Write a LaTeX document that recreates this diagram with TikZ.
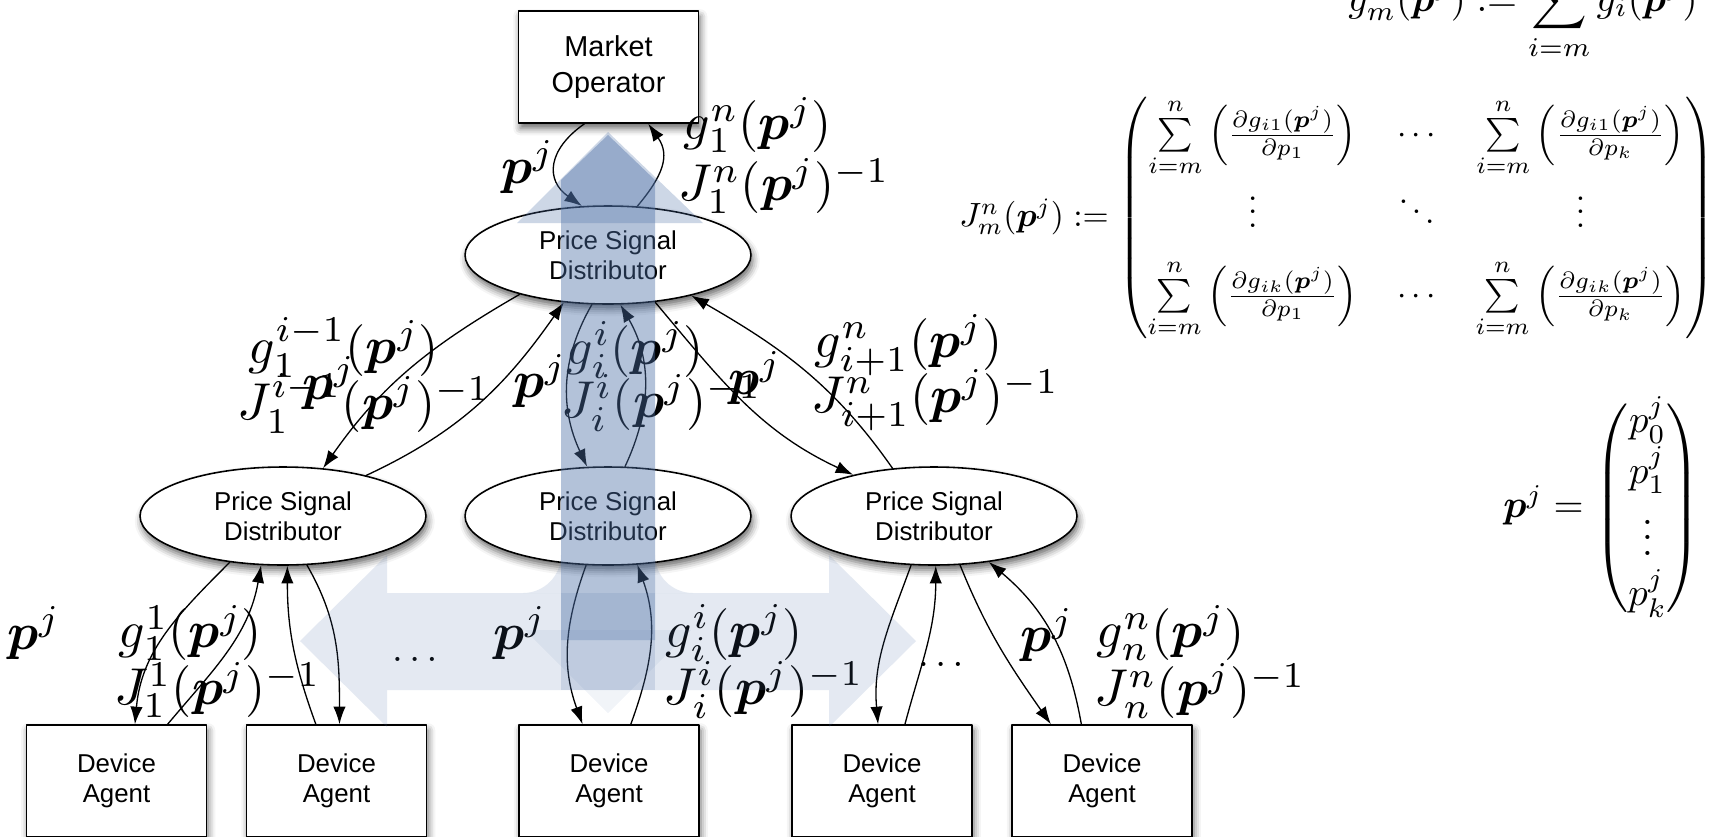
\documentclass[tikz,border=0pt]{standalone}
\usepackage{fontspec}
\setsansfont{Liberation Sans}
\usepackage{amsmath,bm}
\usetikzlibrary{shapes.geometric,arrows.meta,shadows.blur}

\definecolor{flowblue}{RGB}{75,110,165}

\tikzset{
  box/.style={rectangle,draw,fill=white,line width=0.9pt,minimum width=3.6cm,minimum height=2.24cm,inner sep=0pt,align=center,
    font=\sffamily\fontsize{14.7}{17}\selectfont,
    blur shadow={shadow xshift=1pt,shadow yshift=-3pt,shadow blur radius=4pt,shadow opacity=60}},
  psd/.style={ellipse,draw,fill=white,line width=0.9pt,minimum width=5.72cm,minimum height=1.96cm,inner sep=0pt,align=center,
    font=\sffamily\fontsize{14.7}{17}\selectfont,
    blur shadow={shadow xshift=1pt,shadow yshift=-3pt,shadow blur radius=4pt,shadow opacity=60}},
  lbl/.style={inner sep=0pt,scale=2.95},
  eqn/.style={inner sep=0pt,scale=2.2}
}

\begin{document}
\begin{tikzpicture}[x=0.02cm,y=0.02cm,line join=round,line cap=round,>={Latex[length=10pt,width=7pt]},line width=0.75pt]
\useasboundingbox (0,0) rectangle (1716,-836);
% Market operator and distributors
\node[box,font=\sffamily\fontsize{16.4}{21}\selectfont] (MO) at (608.5,-67) {Market\\Operator};
\node[psd] (P0) at (608,-255) {Price Signal\\Distributor};
\foreach \t/\x in {P1/283, P2/608, P3/934}{
  \node[psd] (\t) at (\x,-516) {Price Signal\\Distributor};
}
% Device agents
\foreach \t/\x in {D1/116.5, D2/336.5, D3/609, D4/882, D5/1102}{
  \node[box] (\t) at (\x,-781) {Device\\Agent};
}
% Connectors, top
\draw[->] (MO.-113) to[out=-145,in=145,looseness=1.4] (P0.118);
\draw[->] (P0.59) to[out=50,in=-55,looseness=1.2] (MO.-55);
% Connectors, middle
\draw[->] (P0.-156) to[out=-150,in=55] (P1.50);
\draw[->] (P1.26) to[out=25,in=-125] (P0.-133);
\draw[->] (P0.-108) to[out=-120,in=115] (P2.113);
\draw[->] (P2.71) to[out=65,in=-60] (P0.-76);
\draw[->] (P0.-45) to[out=-50,in=155] (P3.153);
\draw[->] (P3.131) to[out=125,in=-30] (P0.-26);
% Connectors, bottom
\draw[->] (P1.-139) to[out=-135,in=85] (D1.72);
\draw[->] (D1.48) to[out=50,in=-100] (P1.-114);
\draw[->] (D2.110) to[out=110,in=-90] (P1.-85);
\draw[->] (P1.-64) to[out=-60,in=90] (D2.87);
\draw[->] (P2.-114) to[out=-110,in=110] (D3.115);
\draw[->] (D3.69) to[out=70,in=-70] (P2.-59);
\draw[->] (P3.-115) to[out=-110,in=95] (D4.94);
\draw[->] (D4.68) to[out=75,in=-90] (P3.-88);
\draw[->] (P3.-62) to[out=-68,in=125] (D5.132);
\draw[->] (D5.110) to[out=100,in=-40] (P3.-40);
% Labels
\node[lbl] (q0) at (528,-167) {$\bm{p}^j$};
\node[lbl,anchor=west] (g0) at (682,-125) {$g_1^n(\bm{p}^j)$};
\node[lbl,anchor=west] (J0) at (677,-186) {$J_1^n(\bm{p}^j)^{-1}$};
\node[lbl,anchor=west] (g1) at (247,-347) {$g_1^{i-1}(\bm{p}^j)$};
\node[lbl,anchor=west] (J1) at (236,-403) {$J_1^{i-1}(\bm{p}^j)^{-1}$};
\node[lbl] (q1) at (329,-383) {$\bm{p}^j$};
\node[lbl] (q2) at (540,-381) {$\bm{p}^j$};
\node[lbl,anchor=west] (g2) at (565,-350) {$g_i^i(\bm{p}^j)$};
\node[lbl,anchor=west] (J2) at (560,-403) {$J_i^i(\bm{p}^j)^{-1}$};
\node[lbl] (q3) at (755,-378) {$\bm{p}^j$};
\node[lbl,anchor=west] (g3) at (813,-345) {$g_{i+1}^n(\bm{p}^j)$};
\node[lbl,anchor=west] (J3) at (810,-400) {$J_{i+1}^n(\bm{p}^j)^{-1}$};
\node[lbl] (q4) at (34,-633) {$\bm{p}^j$};
\node[lbl,anchor=west] (g4) at (117,-633) {$g_1^1(\bm{p}^j)$};
\node[lbl,anchor=west] (J4) at (113,-690) {$J_1^1(\bm{p}^j)^{-1}$};
\node[eqn] (dots1) at (418,-659) {$\dots$};
\node[lbl] (q5) at (520,-633) {$\bm{p}^j$};
\node[lbl,anchor=west] (g5) at (664,-633) {$g_i^i(\bm{p}^j)$};
\node[lbl,anchor=west] (J5) at (662,-690) {$J_i^i(\bm{p}^j)^{-1}$};
\node[eqn] (dots2) at (944,-664) {$\dots$};
\node[lbl] (q6) at (1047,-635) {$\bm{p}^j$};
\node[lbl,anchor=west] (g6) at (1095,-633) {$g_n^n(\bm{p}^j)$};
\node[lbl,anchor=west] (J6) at (1093,-691) {$J_n^n(\bm{p}^j)^{-1}$};
% Definitions
\node[eqn,anchor=base west] (Gdef) at (1347,-11) {$\displaystyle g_m^n(\bm{p}^j) := \sum_{i=m}^{n} g_i(\bm{p}^j)$};
\node[eqn,anchor=west,scale=0.87] (Jdef) at (958,-218) {$J_m^n(\bm{p}^j) := \begin{pmatrix}
  \sum\limits_{i=m}^{n}\left(\frac{\partial g_{i1}(\bm{p}^j)}{\partial p_1}\right) & \,\cdots\, & \sum\limits_{i=m}^{n}\left(\frac{\partial g_{i1}(\bm{p}^j)}{\partial p_k}\right)\\[6pt]
  \vdots & \ddots & \vdots\\[6pt]
  \sum\limits_{i=m}^{n}\left(\frac{\partial g_{ik}(\bm{p}^j)}{\partial p_1}\right) & \,\cdots\, & \sum\limits_{i=m}^{n}\left(\frac{\partial g_{ik}(\bm{p}^j)}{\partial p_k}\right)
\end{pmatrix}$};
\node[eqn,anchor=west] (pvec) at (1502,-508) {$\bm{p}^j = \begin{pmatrix} p_0^j\\ p_1^j\\ \vdots\\ p_k^j \end{pmatrix}$};
% Background arrows
\fill[flowblue,opacity=0.15] (300,-641) -- (387,-555) -- (387,-593) -- (829,-593) -- (829,-555) -- (916,-641)
  -- (829,-727) -- (829,-690) -- (387,-690) -- (387,-727) -- cycle;
\fill[flowblue,opacity=0.15] (523,-593) arc[start angle=-90,end angle=0,radius=38] -- (561,-593) -- cycle;
\fill[flowblue,opacity=0.15] (693,-593) arc[start angle=-90,end angle=-180,radius=38] -- (655,-593) -- cycle;
\fill[flowblue,opacity=0.08] (525,-630) -- (608,-713) -- (691,-630) -- cycle;
\fill[flowblue,opacity=0.28] (517,-223) -- (608,-132) -- (703,-223) -- cycle;
\fill[flowblue,opacity=0.42] (561,-640) -- (561,-180) -- (608,-135) -- (655,-180) -- (655,-640) -- cycle;
\fill[flowblue,opacity=0.18] (561,-690) rectangle (655,-640);
\end{tikzpicture}
\end{document}
